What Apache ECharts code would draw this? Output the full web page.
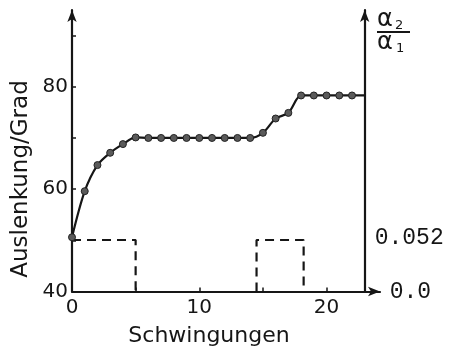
<!DOCTYPE html>
<html><head><meta charset="utf-8">
<script src="https://cdn.jsdelivr.net/npm/echarts@6/dist/echarts.min.js"></script>
<style>html,body{margin:0;padding:0;background:#fff}#c{width:456px;height:351px}</style>
</head><body><div id="c"></div>
<script>
// Data
const schwingungen = [0,1,2,3,4,5,6,7,8,9,10,11,12,13,14,15,16,17,18,19,20,21,22,23];
const auslenkung   = [50.6,59.6,64.7,67.1,68.8,70.1,70,70,70,70,70,70,70,70,70,71.0,73.8,74.9,78.3,78.3,78.3,78.3,78.3,78.3];
const measuredCount = 23; // points 0..22 carry a marker, last value only continues the line to the right axis
const pulse1X = [0,5,5];
const pulse1Y = [0.052,0.052,0];
const pulse2X = [14.5,14.5,18.2,18.2];
const pulse2Y = [0,0.052,0.052,0];
const leftTicks = [40,50,60,70,80,90];
const leftLabels = [40,60,80];
const xTicks = [0,5,10,15,20];
const xLabels = [0,10,20];
const rightLabels = [0,0.052];

const ink = '#161616';
const chart = echarts.init(document.getElementById('c'), null, {renderer:'canvas'});
const curveData = schwingungen.map((x,i)=> i < measuredCount ? [x, auslenkung[i]] : {value:[x, auslenkung[i]], symbol:'none'});
const zip = (xs,ys)=>xs.map((x,i)=>[x,ys[i]]);

chart.setOption({
  backgroundColor:'#fff',
  animation:false,
  grid:{left:72,right:76,top:10,bottom:59.5,containLabel:false},
  xAxis:{type:'value',min:0,max:24.2,
    axisLine:{show:true,lineStyle:{color:ink,width:2.2},symbol:['none','arrow'],symbolSize:[7,12]},
    axisTick:{show:true,inside:true,length:4,lineStyle:{color:ink,width:1.5},customValues:xTicks},
    axisLabel:{customValues:xLabels,color:ink,fontFamily:'DejaVu Sans',fontSize:20,margin:6},
    splitLine:{show:false}},
  yAxis:[
    {type:'value',min:40,max:95,position:'left',
      axisLine:{show:true,lineStyle:{color:ink,width:2.2},symbol:['none','arrow'],symbolSize:[7,12]},
      axisTick:{show:true,inside:true,length:4,lineStyle:{color:ink,width:1.5},customValues:leftTicks},
      axisLabel:{customValues:leftLabels,color:ink,fontFamily:'DejaVu Sans',fontSize:20,margin:4},
      splitLine:{show:false}},
    {type:'value',min:0,max:0.2842,position:'right',offset:-15.3,
      axisLine:{show:true,lineStyle:{color:ink,width:2.2},symbol:['none','arrow'],symbolSize:[7,12]},
      axisTick:{show:false},
      axisLabel:{customValues:rightLabels,color:ink,fontFamily:'Liberation Mono',fontSize:23,margin:10,
        formatter:v=> v===0 ? '{z|0.0}' : '{w|0.052}',
        rich:{z:{fontFamily:'Liberation Mono',fontSize:23,color:ink,padding:[0,0,0,15]},
              w:{fontFamily:'Liberation Mono',fontSize:23,color:ink,padding:[0,0,4,0]}}},
      splitLine:{show:false}}
  ],
  series:[
    {type:'line',yAxisIndex:1,data:zip(pulse1X,pulse1Y),showSymbol:false,
      lineStyle:{color:ink,width:2.2,type:[9,6]},z:1},
    {type:'line',yAxisIndex:1,data:zip(pulse2X,pulse2Y),showSymbol:false,
      lineStyle:{color:ink,width:2.2,type:[9,6]},z:1},
    {type:'line',yAxisIndex:0,data:curveData,smooth:0.3,
      symbol:'circle',symbolSize:7,
      itemStyle:{color:'#5a5a5a',borderColor:'#222',borderWidth:1},
      lineStyle:{color:ink,width:2.2},z:3}
  ],
  graphic:[
    {type:'text',x:21,y:179,rotation:Math.PI/2,
      style:{text:'Auslenkung/Grad',font:'23px "DejaVu Sans"',fill:ink,align:'center',verticalAlign:'middle'}},
    {type:'text',x:209,y:336,
      style:{text:'Schwingungen',font:'22px "DejaVu Sans"',fill:ink,align:'center',verticalAlign:'middle'}},
    {type:'text',x:377,y:20,
      style:{text:'α',font:'24px "DejaVu Sans"',fill:ink,align:'left',verticalAlign:'middle'}},
    {type:'text',x:395,y:26,
      style:{text:'2',font:'13px "DejaVu Sans"',fill:ink,align:'left',verticalAlign:'middle'}},
    {type:'line',shape:{x1:377,y1:32,x2:410,y2:32},style:{stroke:ink,lineWidth:2}},
    {type:'text',x:377,y:43,
      style:{text:'α',font:'24px "DejaVu Sans"',fill:ink,align:'left',verticalAlign:'middle'}},
    {type:'text',x:396,y:49,
      style:{text:'1',font:'13px "DejaVu Sans"',fill:ink,align:'left',verticalAlign:'middle'}}
  ]
});
</script></body></html>
